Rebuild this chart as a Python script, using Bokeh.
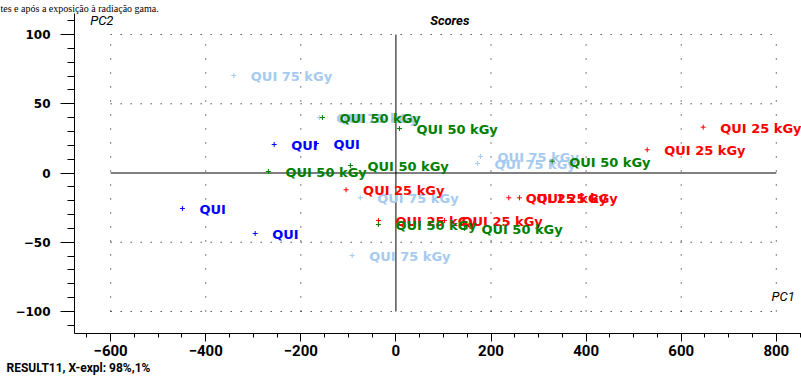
from bokeh.plotting import figure
from bokeh.models import Range1d, FixedTicker, Label, Title
from bokeh.core.properties import value
from bokeh.embed import file_html
from bokeh.resources import INLINE

# ---- data ----
qui_x = [-256, -167, -449, -296]
qui_y = [20.6, 21.3, -25.6, -43.7]

q75_x = [-341, -161, 178, 171.5, -75, -92]
q75_y = [70.4, 40.0, 12.0, 6.9, -17.9, -59.6]

q25_x = [646.3, 528.5, -104.8, 237.3, 259.8, -36.8, 102]
q25_y = [33.1, 16.8, -12.1, -17.9, -17.9, -34.3, -34.3]

q50_x = [-154.6, 7.4, -268.2, -95.7, 328.6, -36.8, 144]
q50_y = [40.1, 32.1, 1.1, 5.4, 8.5, -37.2, -40.1]

x_ticks = [-600, -400, -200, 0, 200, 400, 600, 800]
x_minor = list(range(-650, 851, 50))
y_ticks = [-100, -50, 0, 50, 100]
y_minor = list(range(-110, 111, 10))

series = [
    ("QUI", qui_x, qui_y, "#0000FF"),
    ("QUI 75 kGy", q75_x, q75_y, "#A6CAF0"),
    ("QUI 25 kGy", q25_x, q25_y, "#FF0000"),
    ("QUI 50 kGy", q50_x, q50_y, "#008000"),
]

W, H = 801, 376
p = figure(width=W, height=H, x_range=Range1d(-676, 853), y_range=Range1d(-115.9, 115.2),
           output_backend="svg", toolbar_location=None,
           min_border_left=74, min_border_right=0, min_border_top=0, min_border_bottom=43)
p.outline_line_color = None
p.xgrid.visible = False
p.ygrid.visible = False

# axes
p.xaxis.ticker = FixedTicker(ticks=x_ticks, minor_ticks=x_minor)
p.yaxis.ticker = FixedTicker(ticks=y_ticks, minor_ticks=y_minor)
for ax in (p.xaxis, p.yaxis):
    ax.axis_line_color = "black"
    ax.major_tick_line_color = "black"
    ax.minor_tick_line_color = "black"
    ax.major_tick_in = 0
    ax.minor_tick_in = 0
    ax.major_label_text_color = "black"
    ax.major_label_text_font_style = "bold"
p.xaxis.major_tick_out = 8
p.xaxis.minor_tick_out = 4
p.xaxis.major_label_standoff = 3
p.xaxis.major_label_text_font = "Roboto"
p.xaxis.major_label_text_font_size = "15px"
p.yaxis.major_tick_out = 14
p.yaxis.minor_tick_out = 7
p.yaxis.major_label_standoff = 10
p.yaxis.major_label_text_font = "DejaVu Sans"
p.yaxis.major_label_text_font_size = "12px"

# dotted grid confined to the tick box
gx = [t for t in x_ticks if t != 0]
gy = [t for t in y_ticks if t != 0]
p.segment(x0=gx, y0=[min(y_ticks)] * len(gx), x1=gx, y1=[max(y_ticks)] * len(gx),
          line_color="black", line_width=1, line_dash="1 13")
p.segment(x0=[min(x_ticks)] * len(gy), y0=gy, x1=[max(x_ticks)] * len(gy), y1=gy,
          line_color="black", line_width=1, line_dash="1 9")
# zero lines
p.segment(x0=[0], y0=[min(y_ticks)], x1=[0], y1=[max(y_ticks)], line_color="black", line_width=1)
p.segment(x0=[min(x_ticks)], y0=[0], x1=[max(x_ticks)], y1=[0], line_color="black", line_width=1)

for name, xs, ys, col in series:
    p.scatter(xs, ys, marker="cross", size=5, line_color=col, line_width=1)
    p.text(xs, ys, text=[name] * len(xs), x_offset=17, y_offset=1, text_baseline="middle",
           text_font=value("DejaVu Sans"), text_font_style="bold", text_font_size="13px",
           text_color=col)

lab_font = "Roboto"
p.add_layout(Label(x=-643, y=110, text="PC2", text_font=lab_font, text_font_style="italic",
                   text_font_size="13px", text_baseline="middle", text_color="black"))
p.add_layout(Label(x=72, y=110, text="Scores", text_font=lab_font, text_font_style="bold italic",
                   text_font_size="13px", text_baseline="middle", text_color="black"))
p.add_layout(Label(x=839, y=-89.2, text="PC1", text_font=lab_font, text_font_style="italic",
                   text_font_size="13px", text_baseline="middle", text_align="right",
                   text_color="black"))
# document line above the chart
p.add_layout(Title(text="tes e após a exposição à radiação gama.", align="left", offset=-74,
                   standoff=0, text_font="Liberation Serif", text_font_style="normal",
                   text_font_size="10px", text_color="black"), "above")
# footer line below the axis
p.add_layout(Title(text="RESULT11, X-expl: 98%,1%", align="left", offset=-68, standoff=0,
                   text_font=lab_font, text_font_style="bold", text_font_size="12px",
                   text_color="black"), "below")

open("out.html", "w").write(file_html(p, INLINE))
